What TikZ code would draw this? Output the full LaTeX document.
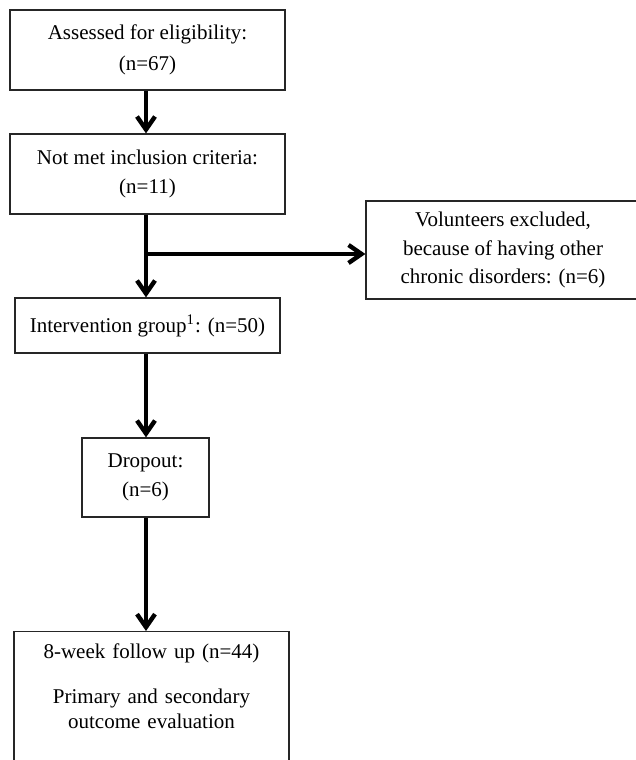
\documentclass[tikz,border=0pt]{standalone}
\usepackage{fontspec}
\setmainfont{Liberation Serif}
\usetikzlibrary{arrows.meta, positioning}

\tikzset{
  stagebox/.style={draw=black!85, line width=0.6pt, inner sep=0pt, align=center,
    font=\fontsize{10.5}{14.2}\selectfont},
  flow/.style={line width=2.2pt, -{Straight Barb[length=6.5pt, width=9pt]}}
}

\begin{document}
\begin{tikzpicture}[x=0.5pt, y=-0.5pt]

  \useasboundingbox (0,0) rectangle (636,760);
  \coordinate (spine) at (146,0);
  \coordinate (split) at (146,254);

  % main column
  \node[stagebox, minimum width=137.5pt, minimum height=40pt] (elig) at (147.5,50)
    {Assessed for eligibility:\\[1.5pt](n=67)};
  \node[stagebox, minimum width=137.5pt, minimum height=40pt] (notmet) at (147.5,174)
    {Not met inclusion criteria:\\(n=11)};
  \node[stagebox, minimum width=132.5pt, minimum height=27.5pt] (interv) at (147.5,325.5)
    {Intervention group\textsuperscript{1}: (n=50)};
  \node[stagebox, minimum width=63.5pt, minimum height=39.5pt] (drop) at (145.5,477.5)
    {Dropout:\\(n=6)};
  \node[stagebox, anchor=north, text width=137.5pt, text height=13.5pt, text depth=61pt] (follow) at (151.5,631)
    {8-week follow up (n=44)\\[8pt]Primary and secondary\\[-1.5pt]outcome evaluation};

  % side branch
  \node[stagebox, minimum width=137pt, minimum height=49pt] (exc) at (503,250)
    {Volunteers excluded,\\because of having other\\chronic disorders: (n=6)};

  % connectors
  \draw[flow] (elig.south -| spine) -- (notmet.north -| spine);
  \draw[flow] (notmet.south -| spine) -- (interv.north -| spine);
  \draw[flow] (split) -- (split -| exc.west);
  \draw[flow] (interv.south -| spine) -- (drop.north -| spine);
  \draw[flow] (drop.south -| spine) -- (follow.north -| spine);

\end{tikzpicture}
\end{document}
